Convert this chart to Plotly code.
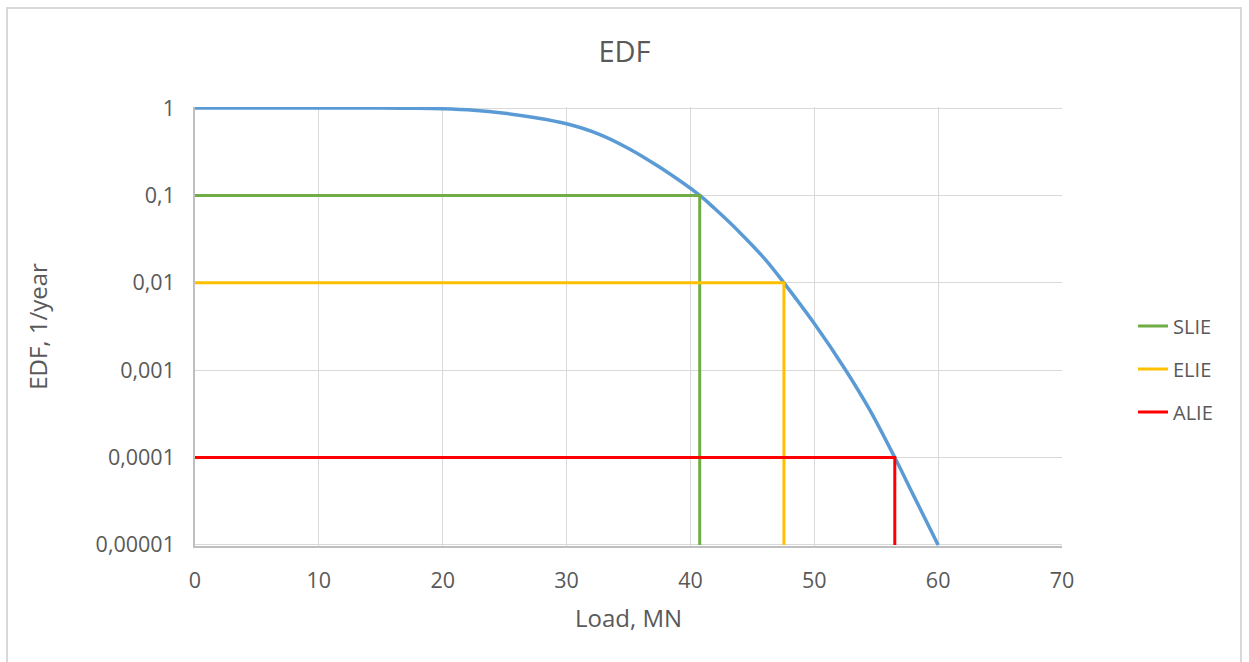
import plotly.graph_objects as go

# ---- data ----
load_mn = [0, 5, 10, 15, 17.5, 20, 22.5, 25, 27.5, 30, 32.5, 35, 37.5, 40.75,
           42, 44, 46, 47.55, 50, 52.5, 54.5, 56.5, 58, 60]
edf = [1.0, 1.0, 1.0, 1.0, 0.9954, 0.9817, 0.944, 0.871, 0.776, 0.661, 0.510,
       0.345, 0.211, 0.1, 0.0698, 0.0375, 0.0188, 0.01, 0.00342, 0.00102,
       0.000347, 0.0001, 0.0000372, 0.00001]

slie_x = [0, 40.75, 40.75]
slie_y = [0.1, 0.1, 0.00001]
elie_x = [0, 47.55, 47.55]
elie_y = [0.01, 0.01, 0.00001]
alie_x = [0, 56.5, 56.5]
alie_y = [0.0001, 0.0001, 0.00001]

y_tickvals = [1, 0.1, 0.01, 0.001, 0.0001, 0.00001]
y_ticktext = ["1", "0,1", "0,01", "0,001", "0,0001", "0,00001"]
x_tickvals = [0, 10, 20, 30, 40, 50, 60, 70]

W, H = 1249, 662
L, R, T, B = 195, 1062, 107, 546  # plot area in px


def px_x(p):
    return (p - L) / (R - L)


def px_y(p):
    return (B - p) / (B - T)


grey = "#595959"
font = "Open Sans"

fig = go.Figure()
fig.add_trace(go.Scatter(x=load_mn, y=edf, mode="lines", name="EDF",
                         line=dict(color="#5B9BD5", width=3.5, shape="spline"),
                         showlegend=False))
fig.add_trace(go.Scatter(x=slie_x, y=slie_y, mode="lines", name="SLIE",
                         line=dict(color="#70AD47", width=3), legendgroup="a"))
fig.add_trace(go.Scatter(x=elie_x, y=elie_y, mode="lines", name="ELIE",
                         line=dict(color="#FFC000", width=3), legendgroup="b"))
fig.add_trace(go.Scatter(x=alie_x, y=alie_y, mode="lines", name="ALIE",
                         line=dict(color="#FF0000", width=3), legendgroup="c"))

fig.update_layout(
    width=W, height=H,
    margin=dict(l=L, r=W - R, t=T, b=H - B, autoexpand=False),
    paper_bgcolor="white", plot_bgcolor="white",
    font=dict(family=font, color=grey, size=20),
    title=dict(text="EDF", x=0.5, xanchor="center", y=1 - 52 / H,
               yanchor="middle", xref="container", yref="container",
               font=dict(size=29, color=grey, family=font)),
    xaxis=dict(range=[0, 70], tickvals=x_tickvals, showgrid=True,
               gridcolor="#D9D9D9", gridwidth=1, zeroline=False,
               showline=True, linecolor="#BFBFBF", linewidth=1.5,
               ticks="", ticklabelstandoff=14,
               tickfont=dict(size=21.5, color=grey),
               title=dict(text="Load, MN", standoff=18,
                          font=dict(size=24, color=grey))),
    yaxis=dict(type="log", range=[-5.012, 0.012], tickvals=y_tickvals,
               ticktext=y_ticktext, showgrid=True, gridcolor="#D9D9D9",
               gridwidth=1, zeroline=False, showline=True,
               linecolor="#BFBFBF", linewidth=1.5, ticks="",
               ticklabelstandoff=14, tickfont=dict(size=21.5, color=grey),
               title=dict(text="EDF, 1/year", standoff=41,
                          font=dict(size=24, color=grey))),
    legend=dict(x=px_x(1133), xanchor="left", y=px_y(306.5), yanchor="top",
                traceorder="grouped", tracegroupgap=14,
                font=dict(size=20, color=grey), bgcolor="rgba(0,0,0,0)"),
    shapes=[dict(type="rect", xref="paper", yref="paper",
                 x0=px_x(7), x1=px_x(1241), y0=px_y(680), y1=px_y(8),
                 line=dict(color="#D9D9D9", width=2), layer="below")],
)

fig.write_html("out.html")
